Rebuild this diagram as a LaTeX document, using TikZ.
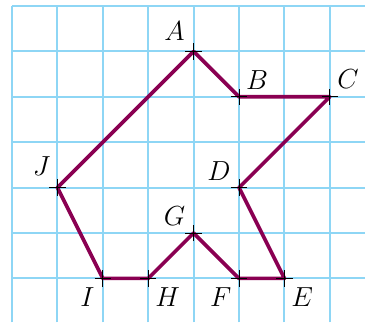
\documentclass[tikz,border=0pt]{standalone}
\usepackage{tikz}
\usetikzlibrary{calc}

\definecolor{gridblue}{RGB}{142,214,245}
\definecolor{polyred}{RGB}{138,0,82}

\begin{document}
\begin{tikzpicture}[
  gridline/.style={draw=gridblue,line width=1.3pt},
  poly/.style={draw=polyred,line width=2.3pt,line join=round},
  tick/.style={draw=black,line width=0.55pt},
  lbl/.style={font=\fontsize{16}{18}\selectfont,inner sep=0pt}
]
\useasboundingbox (-0.264,-0.963) rectangle (7.775,6.132);
\draw[gridline] (0,-0.97) grid (7.8,6);
% vertices
\coordinate (A) at (4,5);
\coordinate (B) at (5,4);
\coordinate (C) at (7,4);
\coordinate (D) at (5,2);
\coordinate (E) at (6,0);
\coordinate (F) at (5,0);
\coordinate (G) at (4,1);
\coordinate (H) at (3,0);
\coordinate (I) at (2,0);
\coordinate (J) at (1,2);
\draw[poly] (A)--(B)--(C)--(D)--(E)--(F)--(G)--(H)--(I)--(J)--cycle;
\foreach \p in {A,B,C,D,E,F,G,H,I,J}{
  \draw[tick] ([xshift=-0.18cm]\p)--([xshift=0.18cm]\p);
  \draw[tick] ([yshift=-0.18cm]\p)--([yshift=0.18cm]\p);
}
% labels
\node[lbl] at ($(A)+(-0.42,0.44)$) {$A$};
\node[lbl] at ($(B)+(0.40,0.37)$) {$B$};
\node[lbl] at ($(C)+(0.40,0.40)$) {$C$};
\node[lbl] at ($(D)+(-0.44,0.37)$) {$D$};
\node[lbl] at ($(E)+(0.39,-0.42)$) {$E$};
\node[lbl] at ($(F)+(-0.40,-0.42)$) {$F$};
\node[lbl] at ($(G)+(-0.42,0.38)$) {$G$};
\node[lbl] at ($(H)+(0.43,-0.42)$) {$H$};
\node[lbl] at ($(I)+(-0.34,-0.42)$) {$I$};
\node[lbl] at ($(J)+(-0.35,0.47)$) {$J$};
\end{tikzpicture}
\end{document}
